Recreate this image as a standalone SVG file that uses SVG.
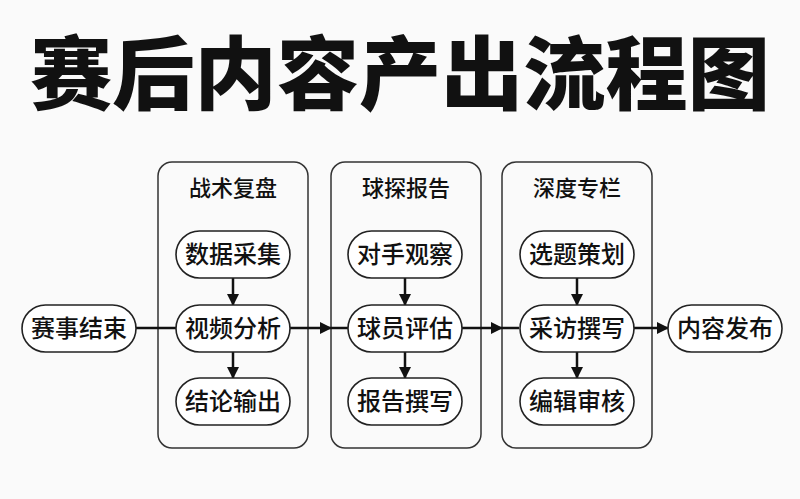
<svg xmlns="http://www.w3.org/2000/svg" width="800" height="499" viewBox="0 0 800 499">
<style>
.t{font-family:"Noto Sans CJK SC","Noto Sans",sans-serif;fill:#111;text-anchor:middle}
.title{font-size:80px;font-weight:900}
.h{font-size:22px;font-weight:500}
.n{font-size:24px;font-weight:500}
.panel{fill:none;stroke:#333;stroke-width:1.5}
.node{fill:#fff;stroke:#222;stroke-width:1.6}
.c{stroke:#111;stroke-width:2.5;fill:none}
</style>
<defs><marker id="b" markerWidth="12" markerHeight="12" refX="11" refY="6" orient="auto" markerUnits="userSpaceOnUse" viewBox="0 0 12 12"><path d="M0,0L12,6L0,12Z" fill="#111"/></marker></defs>
<rect width="800" height="499" fill="#fafafa"/>
<text class="t title" x="400" y="103" textLength="740" lengthAdjust="spacingAndGlyphs">赛后内容产出流程图</text>
<g id="panels">
<rect class="panel" x="158" y="162" width="150" height="286" rx="14"/>
<rect class="panel" x="331" y="162" width="150" height="286" rx="14"/>
<rect class="panel" x="502" y="162" width="150" height="286" rx="14"/>
<text class="t h" x="233" y="196">战术复盘</text>
<text class="t h" x="406" y="196">球探报告</text>
<text class="t h" x="577" y="196">深度专栏</text>
</g>
<g id="connectors">
<line class="c" x1="136" y1="328" x2="176" y2="328"/>
<line class="c" x1="290" y1="328" x2="331" y2="328" marker-end="url(#b)"/>
<line class="c" x1="331" y1="328" x2="348" y2="328"/>
<line class="c" x1="462" y1="328" x2="502" y2="328" marker-end="url(#b)"/>
<line class="c" x1="502" y1="328" x2="519" y2="328"/>
<line class="c" x1="634" y1="328" x2="668" y2="328" marker-end="url(#b)"/>
<line class="c" x1="233" y1="278" x2="233" y2="305" marker-end="url(#b)"/>
<line class="c" x1="233" y1="352" x2="233" y2="378" marker-end="url(#b)"/>
<line class="c" x1="405" y1="278" x2="405" y2="305" marker-end="url(#b)"/>
<line class="c" x1="405" y1="352" x2="405" y2="378" marker-end="url(#b)"/>
<line class="c" x1="577" y1="278" x2="577" y2="305" marker-end="url(#b)"/>
<line class="c" x1="577" y1="352" x2="577" y2="378" marker-end="url(#b)"/>
</g>
<g id="start"><rect class="node" x="22" y="305" width="114" height="47" rx="23.5"/><text class="t n" x="79" y="337">赛事结束</text></g>
<g id="n1"><rect class="node" x="176" y="231" width="114" height="47" rx="23.5"/><text class="t n" x="233" y="263">数据采集</text></g>
<g id="n2"><rect class="node" x="176" y="305" width="114" height="47" rx="23.5"/><text class="t n" x="233" y="337">视频分析</text></g>
<g id="n3"><rect class="node" x="176" y="378" width="114" height="47" rx="23.5"/><text class="t n" x="233" y="410">结论输出</text></g>
<g id="n4"><rect class="node" x="348" y="231" width="114" height="47" rx="23.5"/><text class="t n" x="405" y="263">对手观察</text></g>
<g id="n5"><rect class="node" x="348" y="305" width="114" height="47" rx="23.5"/><text class="t n" x="405" y="337">球员评估</text></g>
<g id="n6"><rect class="node" x="348" y="378" width="114" height="47" rx="23.5"/><text class="t n" x="405" y="410">报告撰写</text></g>
<g id="n7"><rect class="node" x="520" y="231" width="114" height="47" rx="23.5"/><text class="t n" x="577" y="263">选题策划</text></g>
<g id="n8"><rect class="node" x="520" y="305" width="114" height="47" rx="23.5"/><text class="t n" x="577" y="337">采访撰写</text></g>
<g id="n9"><rect class="node" x="520" y="378" width="114" height="47" rx="23.5"/><text class="t n" x="577" y="410">编辑审核</text></g>
<g id="end"><rect class="node" x="668" y="305" width="114" height="47" rx="23.5"/><text class="t n" x="725" y="337">内容发布</text></g>
</svg>
